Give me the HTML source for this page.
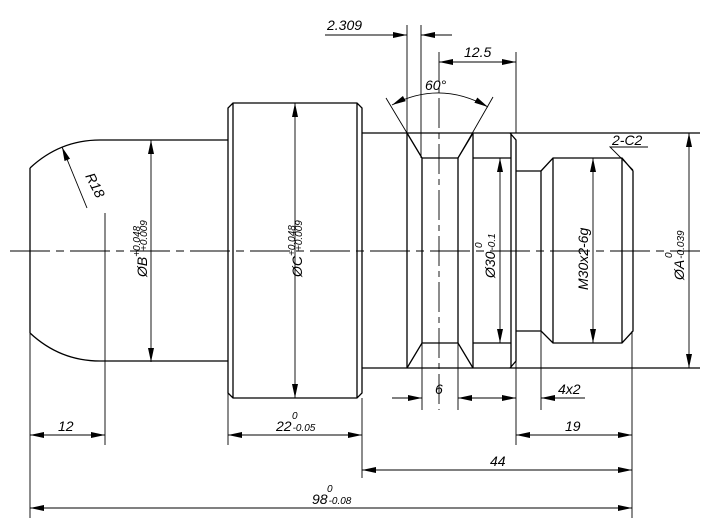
<!DOCTYPE html>
<html><head><style>html,body{margin:0;padding:0;background:#fff}svg{display:block}text{font-family:"Liberation Sans",sans-serif;font-style:italic;fill:#000}</style></head><body>
<svg width="710" height="531" viewBox="0 0 710 531" xmlns="http://www.w3.org/2000/svg">
<defs><marker id="a" viewBox="0 0 14 6" refX="14" refY="3" markerWidth="14" markerHeight="6" markerUnits="userSpaceOnUse" orient="auto-start-reverse"><path d="M0,0L14,3L0,6z" fill="#000"/></marker></defs>
<g stroke="#000" stroke-width="1.3" fill="none">
<path d="M30,168 Q60,140 100,140 L228,140 M30,333 Q60,361 100,361 L228,361"/>
<path d="M30,168 V333"/>
<path d="M233,103 H357 L362,108 V393 L357,398 H233 L228,393 V108 Z M233,103 V398 M357,103 V398"/>
<path d="M362,133 H700 M362,368 H700"/>
<path d="M407,133 L422,158 H458 L473,133 M407,368 L422,343 H458 L473,368"/>
<path d="M407,133 V368 M422,158 V343 M458,158 V343 M473,133 V368 M473,158 H511 M473,343 H511"/>
<path d="M510,133 L516,140 V361 L510,368 M511,133 V368"/>
<path d="M516,171 H541 M516,331 H541"/>
<path d="M541,171 L553,158 H622 L633,171 V331 L622,343 H553 L541,331 Z M553,158 V343 M622,158 V343"/>
</g>
<g stroke="#000" stroke-width="0.9" fill="none">
<path d="M10,251 H700" stroke-dasharray="40,6,8,6"/>
<path d="M439,52 V410" stroke-dasharray="30,5,6,5"/>
<path d="M30,333 V518 M105,213 V445 M228,393 V445 M362,398 V478 M632,331 V518 M516,361 V445 M407,25 V133 M421,25 V158 M516,52 V133"/>
<path d="M422,343 V410 M458,343 V410 M541,331 V410"/>
<path d="M386,98 L422,158 M493,97 L458,158"/>
<path d="M151,140 V362" marker-start="url(#a)" marker-end="url(#a)"/>
<path d="M295,103 V398" marker-start="url(#a)" marker-end="url(#a)"/>
<path d="M500,158 V343" marker-start="url(#a)" marker-end="url(#a)"/>
<path d="M593,158 V343" marker-start="url(#a)" marker-end="url(#a)"/>
<path d="M689,133 V368" marker-start="url(#a)" marker-end="url(#a)"/>
<path d="M439,62 H516" marker-start="url(#a)" marker-end="url(#a)"/>
<path d="M30,435 H105" marker-start="url(#a)" marker-end="url(#a)"/>
<path d="M228,435 H362" marker-start="url(#a)" marker-end="url(#a)"/>
<path d="M516,435 H632" marker-start="url(#a)" marker-end="url(#a)"/>
<path d="M362,470 H632" marker-start="url(#a)" marker-end="url(#a)"/>
<path d="M30,508 H632" marker-start="url(#a)" marker-end="url(#a)"/>
<path d="M325,35 H407" marker-end="url(#a)"/>
<path d="M452,35 H421" marker-end="url(#a)"/>
<path d="M392,398 H422" marker-end="url(#a)"/>
<path d="M488,398 H458" marker-end="url(#a)"/>
<path d="M488,398 H516" marker-end="url(#a)"/>
<path d="M585,398 H541" marker-end="url(#a)"/>
<path d="M392,105 Q440,80 488,107" marker-start="url(#a)" marker-end="url(#a)"/>
<path d="M87,208 L62,147" marker-end="url(#a)"/>
<path d="M648,147 H610 L633,170"/>
</g>
<g font-size="14">
<text x="327" y="30">2.309</text>
<text x="464" y="57">12.5</text>
<text x="425" y="90">60°</text>
<text x="435" y="394">6</text>
<text x="558" y="394">4x2</text>
<text x="58" y="431">12</text>
<text x="565" y="431">19</text>
<text x="490" y="466">44</text>
<text x="276" y="431">22<tspan font-size="10" dx="1">-0.05</tspan></text>
<text x="292" y="419" font-size="10">0</text>
<text x="312" y="504">98<tspan font-size="10" dx="1">-0.08</tspan></text>
<text x="327" y="492" font-size="10">0</text>
<text x="612" y="145">2-C2</text>
<text transform="translate(85,176) rotate(63)">R18</text>
<text transform="translate(147,277) rotate(-90)">ØB<tspan font-size="10" dy="-7">+0.048</tspan></text>
<text transform="translate(147,251) rotate(-90)" font-size="10">+0.009</text>
<text transform="translate(302,277) rotate(-90)">ØC<tspan font-size="10" dy="-7">+0.048</tspan></text>
<text transform="translate(302,251) rotate(-90)" font-size="10">+0.009</text>
<text transform="translate(495,278) rotate(-90)">Ø30<tspan font-size="10" dx="1">-0.1</tspan></text>
<text transform="translate(482,248) rotate(-90)" font-size="10">0</text>
<text transform="translate(588,290) rotate(-90)">M30x2-6g</text>
<text transform="translate(684,280) rotate(-90)">ØA<tspan font-size="10" dx="1">-0.039</tspan></text>
<text transform="translate(672,258) rotate(-90)" font-size="10">0</text>
</g>
</svg>
</body></html>
